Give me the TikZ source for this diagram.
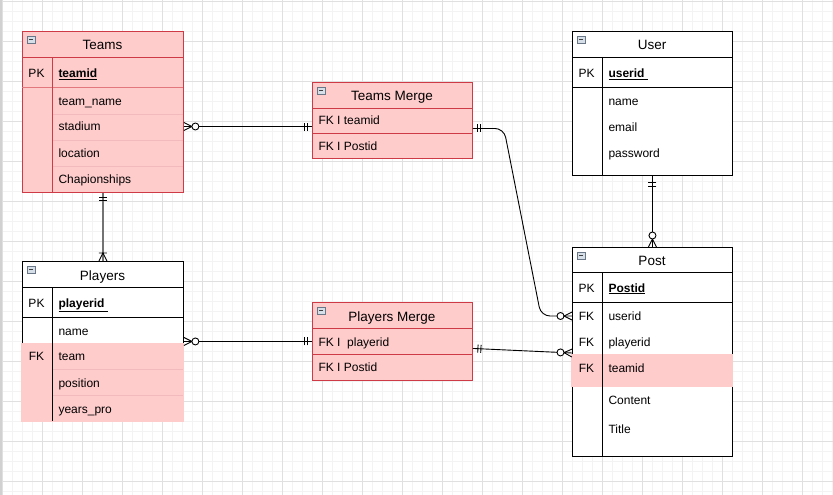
\documentclass[tikz,border=0pt]{standalone}
\usepackage{fontspec}
\setmainfont{Liberation Sans}
\usetikzlibrary{calc}
\definecolor{pinkfill}{RGB}{255,204,204}
\definecolor{redline}{RGB}{206,58,70}
\definecolor{redsoft}{RGB}{226,120,126}
\definecolor{redfaint}{RGB}{242,186,188}
\definecolor{gridminor}{RGB}{243,243,243}
\definecolor{gridmajor}{RGB}{224,224,224}
\definecolor{iconfill}{RGB}{214,222,232}
\definecolor{iconline}{RGB}{105,118,135}
\begin{document}
\begin{tikzpicture}[x=1pt,y=-1pt,
  tblblack/.style={draw=black, line width=0.9pt, fill=white, inner sep=0pt, anchor=north west, rectangle},
  tblred/.style={draw=redline, line width=0.9pt, fill=pinkfill, inner sep=0pt, anchor=north west, rectangle},
  ttl/.style={font=\fontsize{13.5}{16}\selectfont, inner sep=0pt, text height=10pt, text depth=0pt},
  fld/.style={font=\fontsize{12}{14}\selectfont, inner sep=0pt, anchor=west, text height=8.6pt, text depth=0pt},
  keyf/.style={fld, anchor=center},
  pkf/.style={fld, font=\fontsize{12}{14}\selectfont\bfseries},
  conn/.style={line width=0.9pt, draw=black},
  inline/.style={line width=0.9pt, draw=black},
  redin/.style={line width=0.9pt, draw=redline},
  colicon/.pic={\draw[iconline, fill=iconfill, line width=0.5pt] (0,0) rectangle (8,7);
                \draw[black!75, line width=0.8pt] (2,3.5) -- (6,3.5);},
  mone/.pic={\draw[line width=0.9pt] (5,-4) -- (5,4) (8,-4) -- (8,4);},
  monewide/.pic={\draw[line width=0.9pt] (7,-4) -- (7,4) (11,-4) -- (11,4);},
  zmany/.pic={\draw[line width=0.9pt] (0,-4) -- (8,0) -- (0,4);
              \draw[line width=0.9pt, fill=white] (11.5,0) circle (3.5);},
  omany/.pic={\draw[line width=0.9pt] (0,-4) -- (8,0) -- (0,4) (8,-4) -- (8,4);}
]
\useasboundingbox (0,0) rectangle (833,495);
\fill[white] (0,0) rectangle (833,495);
% grid
\foreach \i in {0,...,83} {
  \pgfmathsetmacro{\gx}{2+10*\i}
  \draw[gridminor, line width=0.8pt] (\gx,0) -- (\gx,495);
}
\foreach \i in {0,...,49} {
  \pgfmathsetmacro{\gy}{1+10*\i}
  \draw[gridminor, line width=0.8pt] (0,\gy) -- (833,\gy);
}
\foreach \i in {0,...,20} {
  \pgfmathsetmacro{\gx}{2+40*\i}
  \draw[gridmajor, line width=0.7pt] (\gx,0) -- (\gx,495);
}
\foreach \i in {0,...,12} {
  \pgfmathsetmacro{\gy}{1+40*\i}
  \draw[gridmajor, line width=0.7pt] (0,\gy) -- (833,\gy);
}
\draw[black!18, line width=1.5pt] (0.75,0) -- (0.75,495);

% ---------------- Teams ----------------
\node[tblred, minimum width=161pt, minimum height=161pt] (teams) at (22,31) {};
\draw[redline, line width=0.9pt] (22,57) -- (183,57);
\draw[redsoft, line width=0.9pt] (22,87.5) -- (183,87.5);
\foreach \yy in {114,140,166} \draw[redfaint, line width=0.7pt] (52,\yy) -- (183,\yy);
\draw[redline, line width=0.9pt] (52,57) -- (52,192);
\pic at (27,36) {colicon};
\node[ttl] (teams-title) at (102.5,44.7) {Teams};
\node[keyf] (teams-pk) at (36.5,73) {PK};
\node[pkf] (t-teamid) at (58.3,73) {\underline{teamid}};
\node[fld] (t-name) at (58.3,100.7) {team\_name};
\node[fld] (t-stadium) at (58.3,126.5) {stadium};
\node[fld] (t-location) at (58.3,153) {location};
\node[fld] (t-champ) at (58.3,178.7) {Chapionships};

% ---------------- Teams Merge ----------------
\node[tblred, minimum width=160pt, minimum height=76pt] (tmerge) at (312,82) {};
\draw[redin] (312,108) -- (472,108);
\draw[redin] (312,133) -- (472,133);
\pic at (317,87) {colicon};
\node[ttl] (tm-title) at (392,95.7) {Teams Merge};
\node[fld] (tm-teamid) at (318.3,120) {FK I teamid};
\node[fld] (tm-postid) at (318.3,146) {FK I Postid};

% ---------------- User ----------------
\node[tblblack, minimum width=160pt, minimum height=144pt] (user) at (572,31) {};
\draw[inline] (572,57) -- (732,57);
\draw[inline] (572,87) -- (732,87);
\draw[inline] (602,57) -- (602,175);
\pic at (577,36) {colicon};
\node[ttl] (u-title) at (652,44.7) {User};
\node[keyf] (u-pk) at (586.5,73) {PK};
\node[pkf] (u-userid) at (608.3,73) {\underline{userid\ }};
\node[fld] (u-name) at (608.3,100.7) {name};
\node[fld] (u-email) at (608.3,127) {email};
\node[fld] (u-password) at (608.3,153) {password};

% ---------------- Players ----------------
\node[tblblack, minimum width=161pt, minimum height=160pt] (players) at (22,261) {};
\fill[pinkfill] (21.4,343) rectangle (183.6,421.6);
\draw[inline] (22,287) -- (183,287);
\draw[inline] (22,317) -- (183,317);
\foreach \yy in {369,395} \draw[redfaint, line width=0.7pt] (52,\yy) -- (183,\yy);
\draw[inline] (52,287) -- (52,421);
\pic at (27,266) {colicon};
\node[ttl] (p-title) at (102.5,275.7) {Players};
\node[keyf] (p-pk) at (36.5,303) {PK};
\node[pkf] (p-playerid) at (58.3,303) {\underline{playerid\ }};
\node[fld] (p-name) at (58.3,331) {name};
\node[keyf] (p-fk) at (36.5,356) {FK};
\node[fld] (p-team) at (58.3,356) {team};
\node[fld] (p-position) at (58.3,382.7) {position};
\node[fld] (p-years) at (58.3,409) {years\_pro};

% ---------------- Players Merge ----------------
\node[tblred, minimum width=160pt, minimum height=78pt] (pmerge) at (312,302) {};
\draw[redin] (312,328) -- (472,328);
\draw[redin] (312,354) -- (472,354);
\pic at (317,307) {colicon};
\node[ttl] (pm-title) at (392,316.5) {Players Merge};
\node[fld] (pm-playerid) at (318.3,341.7) {FK I\ \ playerid};
\node[fld] (pm-postid) at (318.3,366.7) {FK I Postid};

% ---------------- Post ----------------
\node[tblblack, minimum width=160pt, minimum height=209pt] (post) at (572,247) {};
\fill[pinkfill] (571.4,354) rectangle (732.6,386.7);
\draw[inline] (572,272) -- (732,272);
\draw[inline] (572,302) -- (732,302);
\draw[inline] (602,272) -- (602,456);
\pic at (577,252) {colicon};
\node[ttl] (po-title) at (652,260.7) {Post};
\node[keyf] (po-pk) at (586.5,287.7) {PK};
\node[pkf] (po-postid) at (608.3,287.7) {\underline{Postid}};
\node[keyf] (po-fk1) at (586.5,316) {FK};
\node[fld] (po-userid) at (608.3,316) {userid};
\node[keyf] (po-fk2) at (586.5,341.7) {FK};
\node[fld] (po-playerid) at (608.3,341.7) {playerid};
\node[keyf] (po-fk3) at (586.5,367.7) {FK};
\node[fld] (po-teamid) at (608.3,367.7) {teamid};
\node[fld] (po-content) at (608.3,400) {Content};
\node[fld] (po-title2) at (608.3,429) {Title};

% ---------------- Connectors ----------------
% Teams -- Teams Merge
\draw[conn] (teams.east |- t-stadium) -- (tmerge.west |- t-stadium);
\pic at (teams.east |- t-stadium) {zmany};
\pic[rotate=180] at (tmerge.west |- t-stadium) {mone};

% Teams Merge -- Post
\draw[conn, rounded corners=9pt] ($(tmerge.east)+(0,8)$) -- ++(31,0)
   -- ($(post.west |- po-userid)+(-31,0)$) -- (post.west |- po-userid);
\pic at ($(tmerge.east)+(0,8)$) {mone};
\pic[rotate=180] at (post.west |- po-userid) {zmany};

% Teams -- Players
\draw[line width=1.4pt, draw=black!55] (teams.south) -- (players.north);
\pic[rotate=-90] at (teams.south) {mone};
\pic[rotate=90] at (players.north) {omany};

% User -- Post
\draw[conn] (user.south) -- (post.north);
\pic[rotate=-90] at (user.south) {monewide};
\pic[rotate=90] at (post.north) {zmany};

% Players -- Players Merge
\draw[conn] (players.east |- pmerge.west) -- (pmerge.west);
\pic at (players.east |- pmerge.west) {zmany};
\pic[rotate=180] at (pmerge.west) {mone};

% Players Merge -- Post
\draw[conn] ($(pmerge.east)+(0,7)$) -- ($(post.north west)+(0,106)$);
\pic[rotate=-2.86] at ($(pmerge.east)+(0,7)$) {mone};
\pic[rotate=177.14] at ($(post.north west)+(0,106)$) {zmany};
\end{tikzpicture}
\end{document}
